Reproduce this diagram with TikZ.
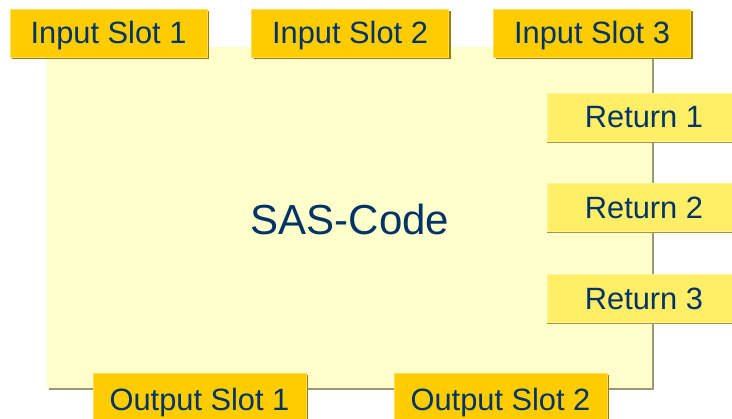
\documentclass[tikz,border=0pt]{standalone}
\usepackage{fontspec}
\setmainfont{Liberation Sans}
\usetikzlibrary{shadows}
\definecolor{txt}{HTML}{003366}
\definecolor{slotfill}{HTML}{FFCC00}
\definecolor{slotshadow}{HTML}{9C7E00}
\definecolor{slotedge}{HTML}{FFDD55}
\definecolor{retfill}{HTML}{FFEE66}
\definecolor{retshadow}{HTML}{A8963A}
\definecolor{retedge}{HTML}{FFF399}
\definecolor{mainfill}{HTML}{FFFFCC}
\definecolor{mainshadow}{HTML}{999977}
\tikzset{
  boxbase/.style={inner sep=0pt, text=txt, font=\fontsize{30.8}{30.8}\selectfont,
    text height=22pt, text depth=0pt},
  slot/.style={boxbase, fill=slotfill, draw=slotedge, line width=0.8pt,
    drop shadow={shadow xshift=2pt, shadow yshift=-2pt, fill=slotshadow, opacity=1}},
  ret/.style={boxbase, fill=retfill, draw=retedge, line width=0.8pt,
    drop shadow={shadow xshift=0pt, shadow yshift=-2pt, fill=retshadow, opacity=1}},
}
\begin{document}
\begin{tikzpicture}[x=1pt,y=-1pt]
\useasboundingbox (0,0) rectangle (732,419);
% main box
\fill[mainshadow] (49,49) rectangle (654,390);
\fill[mainfill] (47,47) rectangle (652,388);
\node[inner sep=0pt, text=txt, font=\fontsize{42}{42}\selectfont, text height=30pt, text depth=0pt] (main) at (350,220) {SAS-Code};
% input slots
\node[slot, minimum width=197pt, minimum height=48pt] (in1) at (108.5,33) {Input Slot 1};
\node[slot, minimum width=197pt, minimum height=48pt] (in2) at (350,33) {Input Slot 2};
\node[slot, minimum width=197pt, minimum height=48pt] (in3) at (592,33) {Input Slot 3};
% returns
\node[ret, minimum width=194pt, minimum height=48pt] (r1) at (644,117) {Return 1};
\node[ret, minimum width=194pt, minimum height=48pt] (r2) at (644,207.5) {Return 2};
\node[ret, minimum width=194pt, minimum height=48pt] (r3) at (644,298.5) {Return 3};
% outputs
\node[slot, minimum width=213pt, minimum height=54pt] (out1) at (199.5,400) {Output Slot 1};
\node[slot, minimum width=213pt, minimum height=54pt] (out2) at (500.5,400) {Output Slot 2};
\end{tikzpicture}
\end{document}
